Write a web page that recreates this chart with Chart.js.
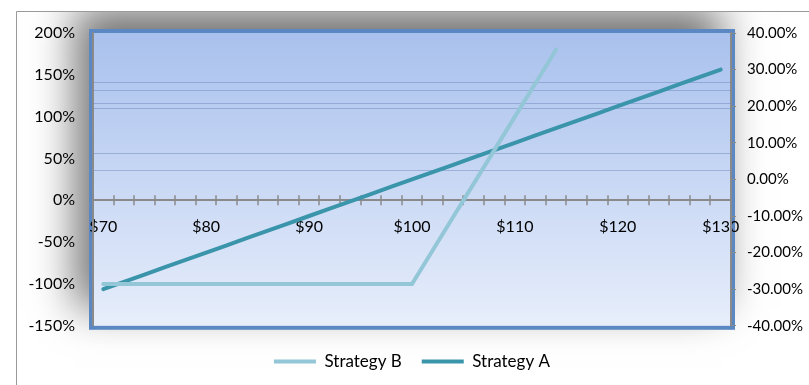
<!DOCTYPE html>
<html lang="en">
<head>
<meta charset="UTF-8">
<title>Strategy A vs Strategy B</title>
<script src="https://cdn.jsdelivr.net/npm/chart.js"></script>
<style>
    html, body { margin: 0; padding: 0; background: #fff; }
    #wrap { width: 809px; height: 385px; }
</style>
</head>
<body>
<div id="wrap"><canvas id="chart" width="809" height="385"></canvas></div>
<script>
    // stock price at expiry, $2 steps
    const prices = [70, 72, 74, 76, 78, 80, 82, 84, 86, 88, 90, 92, 94, 96, 98, 100,
                    102, 104, 106, 108, 110, 112, 114, 116, 118, 120, 122, 124, 126, 128, 130];
    const categories = prices.map(p => '$' + p);

    // Strategy B (left axis, %): flat loss until $100, then steep
    const strategyB = [-100, -100, -100, -100, -100, -100, -100, -100, -100, -100, -100, -100, -100, -100, -100, -100,
                       -60, -20, 20, 60, 100, 140, 180, null, null, null, null, null, null, null, null];
    // Strategy A (right axis, %)
    const strategyA = [-30, -28, -26, -24, -22, -20, -18, -16, -14, -12, -10, -8, -6, -4, -2, 0,
                       2, 4, 6, 8, 10, 12, 14, 16, 18, 20, 22, 24, 26, 28, 30];

    const leftTicks = { min: -150, max: 200, step: 50 };
    const rightTicks = { min: -40, max: 40, step: 10 };

    // stray faint lines across the plot (left axis values)
    const faintLines = [141, 132, 116, 110, 57, 36];

    const FONT = 'Lato, "Liberation Sans", sans-serif';

    const backdrop = {
        id: 'backdrop',
        beforeDraw(chart) {
            const { ctx, chartArea: a, width, height } = chart;
            ctx.save();
            ctx.fillStyle = '#fff';
            ctx.fillRect(0, 0, width, height);
            // outer frame
            ctx.beginPath();
            ctx.rect(16, 11, width - 16, height - 11);
            ctx.clip();
            ctx.shadowColor = 'rgba(0,0,0,0.55)';
            ctx.shadowBlur = 40;
            ctx.shadowOffsetX = -14;
            ctx.shadowOffsetY = -22;
            ctx.fillStyle = '#fff';
            ctx.fillRect(a.left - 4, a.top - 4, a.width + 8, a.height + 8);
            ctx.shadowColor = 'transparent';
            ctx.strokeStyle = '#9a9a9a';
            ctx.lineWidth = 1;
            ctx.beginPath();
            ctx.moveTo(16.5, height);
            ctx.lineTo(16.5, 11.5);
            ctx.lineTo(width, 11.5);
            ctx.stroke();
            // plot area
            const g = ctx.createLinearGradient(0, a.top, 0, a.bottom);
            g.addColorStop(0, '#a9c1ed');
            g.addColorStop(1, '#e7eefb');
            ctx.fillStyle = g;
            ctx.fillRect(a.left, a.top, a.width, a.height);
            ctx.strokeStyle = '#5b87c2';
            ctx.lineWidth = 4;
            ctx.strokeRect(a.left - 2, a.top - 2, a.width + 4, a.height + 4);
            ctx.restore();
        },
        beforeDatasetsDraw(chart) {
            const { ctx, chartArea: a, scales: { x, y } } = chart;
            ctx.save();
            ctx.strokeStyle = 'rgba(105,130,185,0.45)';
            ctx.lineWidth = 1;
            faintLines.forEach(v => {
                const py = Math.round(y.getPixelForValue(v)) + 0.5;
                ctx.beginPath();
                ctx.moveTo(a.left, py);
                ctx.lineTo(a.right, py);
                ctx.stroke();
            });
            // cross tick marks on the category axis
            const y0 = y.getPixelForValue(0);
            ctx.strokeStyle = '#8a8a8a';
            ctx.lineWidth = 1.5;
            for (let i = 1; i < categories.length; i++) {
                const px = Math.round((x.getPixelForValue(i - 1) + x.getPixelForValue(i)) / 2);
                ctx.beginPath();
                ctx.moveTo(px, y0 - 5);
                ctx.lineTo(px, y0 + 5);
                ctx.stroke();
            }
            ctx.restore();
        }
    };

    new Chart(document.getElementById('chart'), {
        type: 'line',
        data: {
            labels: categories,
            datasets: [{
                label: 'Strategy B',
                data: strategyB,
                yAxisID: 'y',
                borderColor: '#93c6d6',
                backgroundColor: '#93c6d6',
                borderWidth: 4,
                pointRadius: 0,
                borderCapStyle: 'round',
                tension: 0
            }, {
                label: 'Strategy A',
                data: strategyA,
                yAxisID: 'y2',
                borderColor: '#3a95ab',
                backgroundColor: '#3a95ab',
                borderWidth: 4,
                pointRadius: 0,
                borderCapStyle: 'round',
                tension: 0
            }]
        },
        options: {
            responsive: false,
            animation: false,
            layout: { padding: { top: 33, left: 0, right: 0, bottom: 5 } },
            plugins: {
                tooltip: { enabled: false },
                legend: {
                    position: 'bottom',
                    fullSize: false,
                    title: { display: true, text: '', padding: 3, font: { size: 1 } },
                    labels: {
                        usePointStyle: true,
                        pointStyle: 'line',
                        pointStyleWidth: 42,
                        boxHeight: 4,
                        padding: 20,
                        color: '#000',
                        font: { family: FONT, size: 17 }
                    }
                }
            },
            scales: {
                x: {
                    position: { y: 0 },
                    offset: true,
                    grid: { display: false },
                    border: { color: '#8a8a8a', width: 2 },
                    ticks: {
                        autoSkip: false,
                        maxRotation: 0,
                        padding: 9,
                        color: '#000',
                        font: { family: FONT, size: 16 },
                        callback: (v, i) => (prices[i] % 10 === 0 ? categories[i] : '')
                    }
                },
                y: {
                    position: 'left',
                    min: leftTicks.min,
                    max: leftTicks.max,
                    afterFit: s => { s.width = 93; },
                    grid: { drawOnChartArea: false, drawTicks: false },
                    border: { color: '#8a8a8a', width: 2 },
                    ticks: {
                        stepSize: leftTicks.step,
                        padding: 18,
                        color: '#000',
                        font: { family: FONT, size: 16 },
                        callback: v => v + '%'
                    }
                },
                y2: {
                    position: 'right',
                    min: rightTicks.min,
                    max: rightTicks.max,
                    afterFit: s => { s.width = 78; },
                    grid: { drawOnChartArea: false, drawTicks: true, tickLength: 5, color: '#8a8a8a' },
                    border: { color: '#8a8a8a', width: 2 },
                    ticks: {
                        stepSize: rightTicks.step,
                        padding: 11,
                        color: '#000',
                        font: { family: FONT, size: 15 },
                        callback: v => v.toFixed(2) + '%'
                    }
                }
            }
        },
        plugins: [backdrop]
    });
</script>
</body>
</html>
